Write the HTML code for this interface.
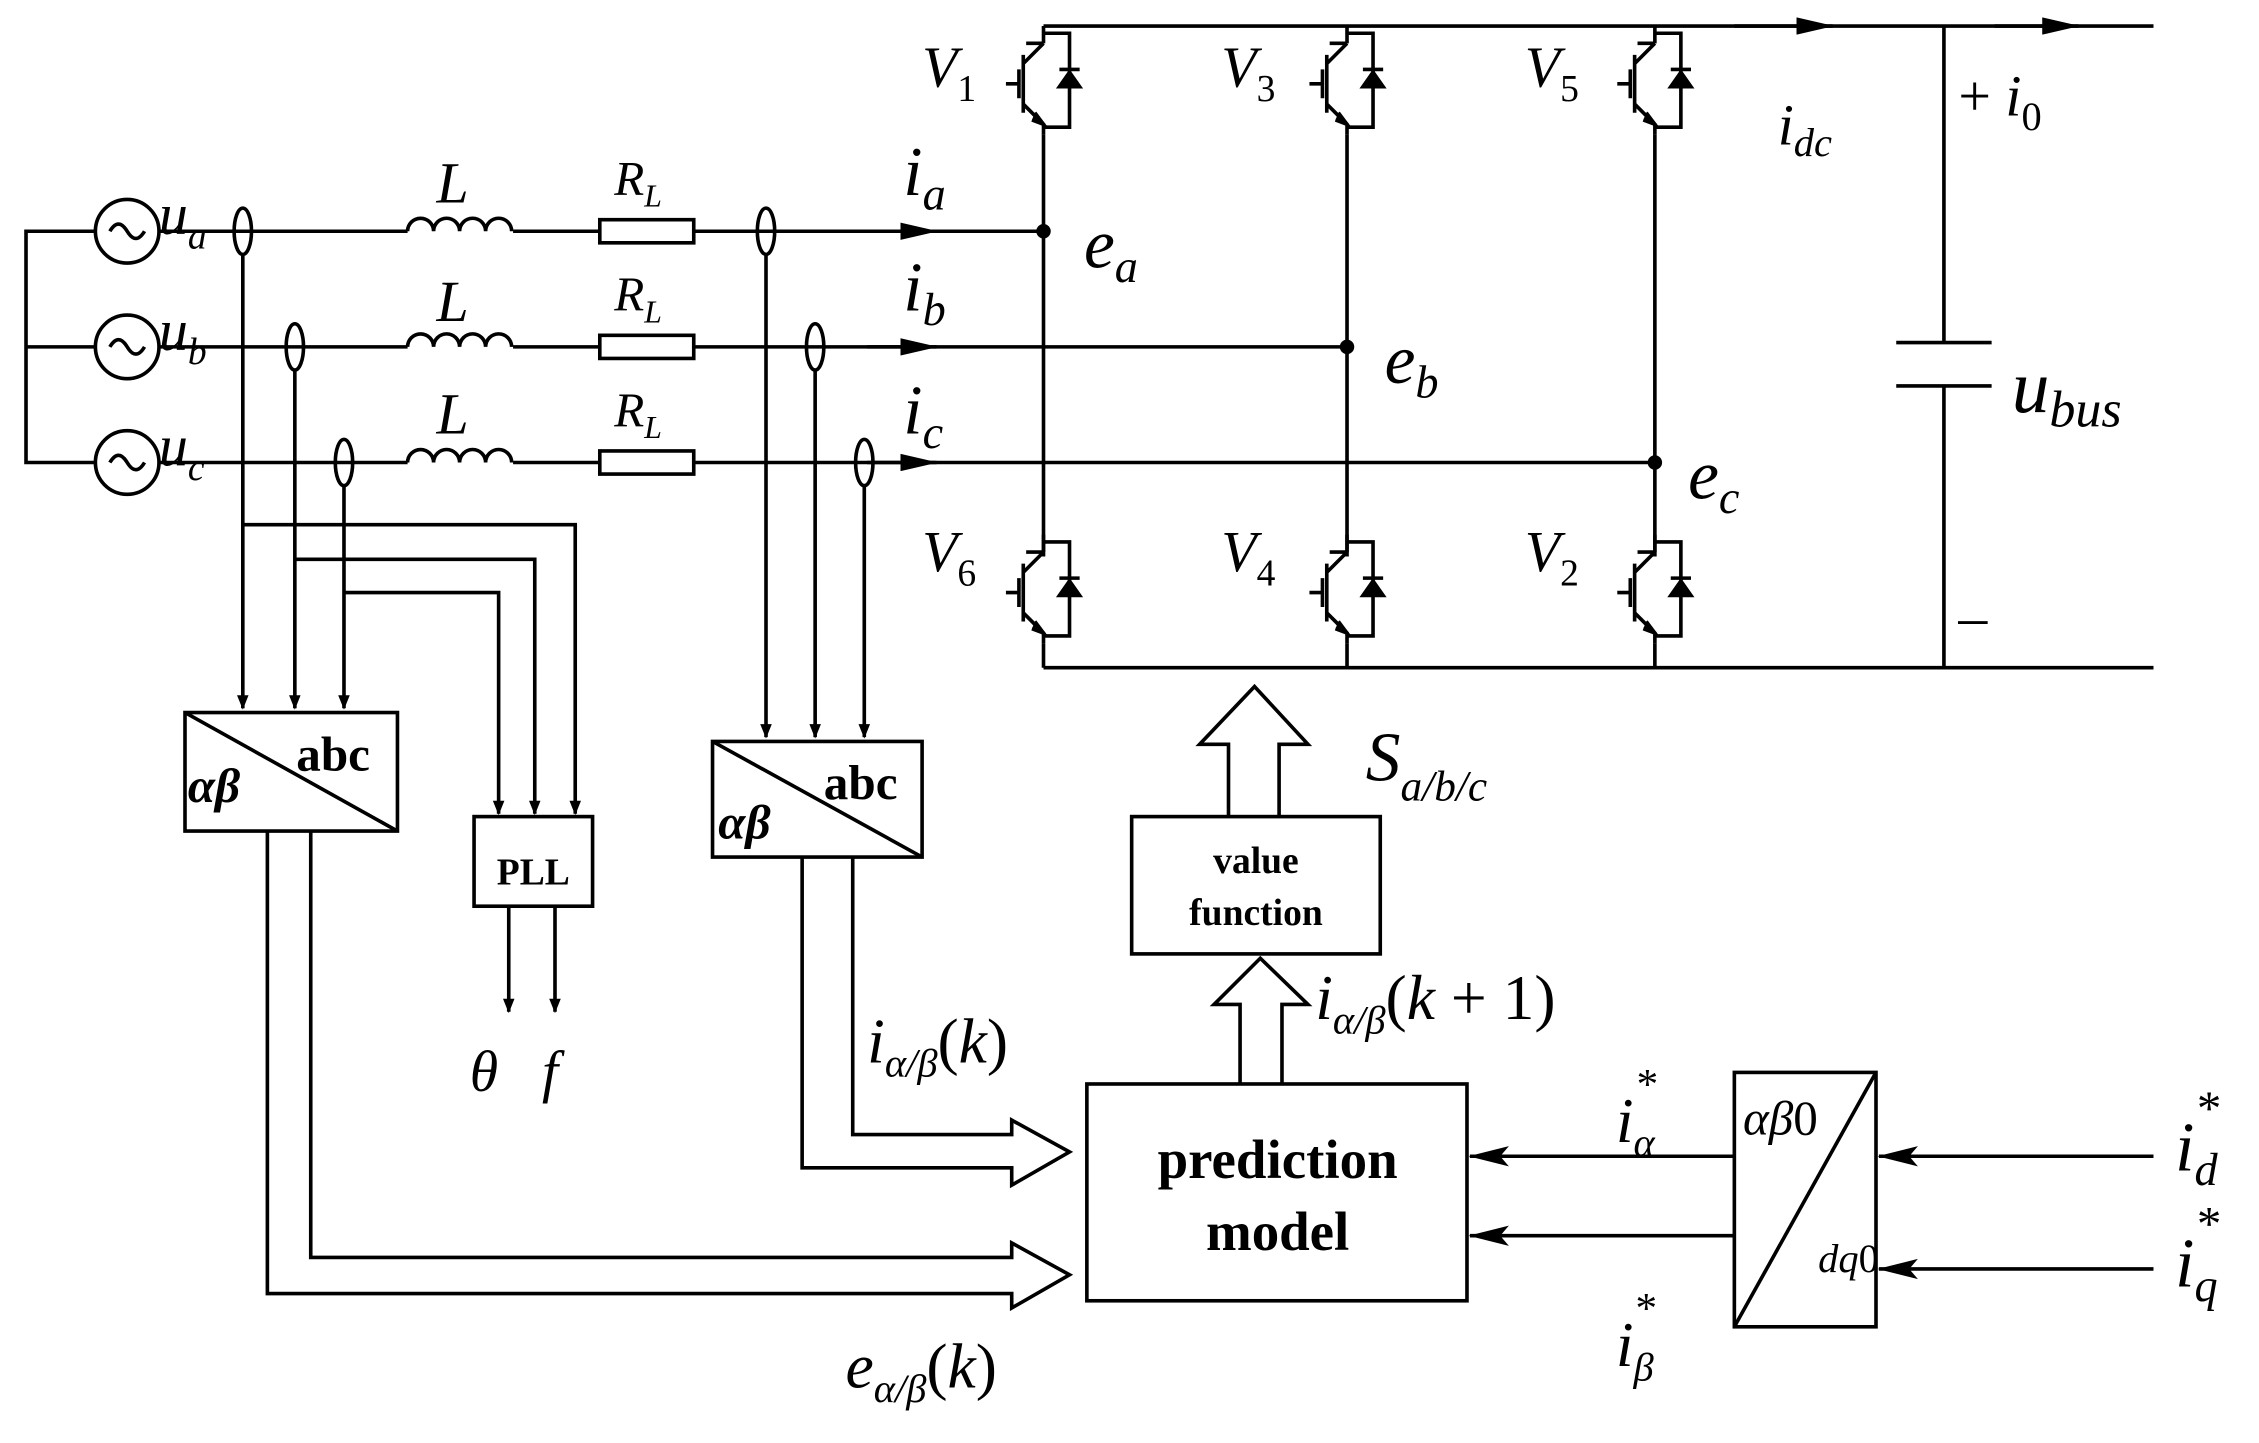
<!DOCTYPE html>
<html><head><meta charset="utf-8"><style>
html,body{margin:0;padding:0;background:#fff}
svg{display:block}
text{font-family:"Liberation Serif",serif;fill:#000}
.i{font-style:italic}
</style></head><body>
<svg width="2259" height="1443" viewBox="0 0 1563 998.4" xmlns="http://www.w3.org/2000/svg">
<defs>
<marker id="a" markerWidth="10" markerHeight="8" refX="9" refY="4" orient="auto" markerUnits="userSpaceOnUse"><path d="M0,0 L10,4 L0,8z" fill="#000"/></marker>
<marker id="c" markerWidth="26" markerHeight="12" refX="25" refY="6" orient="auto" markerUnits="userSpaceOnUse"><path d="M0,0 L26,6 L0,12z" fill="#000"/></marker>
<marker id="b" markerWidth="28" markerHeight="14" refX="27" refY="7" orient="auto" markerUnits="userSpaceOnUse"><path d="M0,0 L28,7 L0,14 L6,7z" fill="#000"/></marker>
<g id="igbt" fill="none" stroke="#000" stroke-width="2.5">
<path d="M0,0 V12 M0,12 H-12 M-14,20 V60 M-17,30 V50 M-26,40 H-17 M-14,26 L0,12 M-14,54 L0,68 V75"/>
<path d="M0,5 H18 V70 H0"/>
<path d="M11,42 L25,42 L18,32z" fill="#000"/>
<path d="M11,30 H25"/>
<path d="M-6,60 L0,68 L-8,65" fill="#000"/>
</g>
</defs>
<g fill="none" stroke="#000" stroke-width="2.5">
<path d="M66,160 H18 V320 H66 M66,240 H18"/>
<circle cx="88" cy="160" r="22"/><circle cx="88" cy="240" r="22"/><circle cx="88" cy="320" r="22"/>
<path d="M76,160 q6,-10 12,0 t12,0 M76,240 q6,-10 12,0 t12,0 M76,320 q6,-10 12,0 t12,0"/>
<path d="M110,160 H282 M355,160 H415 M480,160 H722"/>
<path d="M110,240 H282 M355,240 H415 M480,240 H932"/>
<path d="M110,320 H282 M355,320 H415 M480,320 H1145"/>
<path d="M282,160 a9,9 0 0 1 18,0 a9,9 0 0 1 18,0 a9,9 0 0 1 18,0 a9,9 0 0 1 18,0"/>
<path d="M282,240 a9,9 0 0 1 18,0 a9,9 0 0 1 18,0 a9,9 0 0 1 18,0 a9,9 0 0 1 18,0"/>
<path d="M282,320 a9,9 0 0 1 18,0 a9,9 0 0 1 18,0 a9,9 0 0 1 18,0 a9,9 0 0 1 18,0"/>
<rect x="415" y="152" width="65" height="16"/><rect x="415" y="232" width="65" height="16"/><rect x="415" y="312" width="65" height="16"/>
<ellipse cx="168" cy="160" rx="6" ry="16"/><ellipse cx="204" cy="240" rx="6" ry="16"/><ellipse cx="238" cy="320" rx="6" ry="16"/>
<ellipse cx="530" cy="160" rx="6" ry="16"/><ellipse cx="564" cy="240" rx="6" ry="16"/><ellipse cx="598" cy="320" rx="6" ry="16"/>
<path d="M168,176 V490" marker-end="url(#a)"/><path d="M204,256 V490" marker-end="url(#a)"/><path d="M238,336 V490" marker-end="url(#a)"/>
<path d="M168,363 H398 V563" marker-end="url(#a)"/><path d="M204,387 H370 V563" marker-end="url(#a)"/><path d="M238,410 H345 V563" marker-end="url(#a)"/>
<path d="M530,176 V510" marker-end="url(#a)"/><path d="M564,256 V510" marker-end="url(#a)"/><path d="M598,336 V510" marker-end="url(#a)"/>
<path d="M600,160 H648" marker-end="url(#c)"/><path d="M600,240 H648" marker-end="url(#c)"/><path d="M600,320 H648" marker-end="url(#c)"/>
<rect x="128" y="493" width="147" height="82"/><path d="M128,493 L275,575"/>
<rect x="493" y="513" width="145" height="80"/><path d="M493,513 L638,593"/>
<rect x="328" y="565" width="82" height="62"/>
<path d="M352,627 V700" marker-end="url(#a)"/><path d="M384,627 V700" marker-end="url(#a)"/>
<path d="M185,575 V895 H700 V905 L740,882 L700,860 V870 H215 V575"/>
<path d="M555,593 V808 H700 V820 L740,797 L700,775 V785 H590 V593"/>
<rect x="752" y="750" width="263" height="150"/>
<rect x="783" y="565" width="172" height="95"/>
<path d="M858,750 V695 H840 L872,663 L905,695 H887 V750"/>
<path d="M850,565 V515 H830 L868,475 L905,515 H885 V565"/>
<rect x="1200" y="742" width="98" height="176"/><path d="M1200,918 L1298,742"/>
<path d="M1200,800 H1017" marker-end="url(#b)"/><path d="M1200,855 H1017" marker-end="url(#b)"/>
<path d="M1490,800 H1300" marker-end="url(#b)"/><path d="M1490,878 H1300" marker-end="url(#b)"/>
<path d="M722,18 H1490 M722,462 H1490"/>
<path d="M1200,18 H1268" marker-end="url(#c)"/><path d="M1380,18 H1438" marker-end="url(#c)"/>
<path d="M722,93 V385 M932,93 V385 M1145,93 V385 M722,445 V462 M932,445 V462 M1145,445 V462"/>
<path d="M1345,18 V237 M1345,267 V462 M1312,237 H1378 M1312,267 H1378"/>
</g>
<use href="#igbt" x="722" y="18"/><use href="#igbt" x="932" y="18"/><use href="#igbt" x="1145" y="18"/>
<use href="#igbt" x="722" y="370"/><use href="#igbt" x="932" y="370"/><use href="#igbt" x="1145" y="370"/>
<g fill="#000"><circle cx="722" cy="160" r="5"/><circle cx="932" cy="240" r="5"/><circle cx="1145" cy="320" r="5"/></g>
<g font-size="40">
<text x="110" y="162" class="i">u<tspan font-size="26" dy="10">a</tspan></text>
<text x="110" y="242" class="i">u<tspan font-size="26" dy="10">b</tspan></text>
<text x="110" y="322" class="i">u<tspan font-size="26" dy="10">c</tspan></text>
<text x="302" y="140" class="i">L</text><text x="302" y="222" class="i">L</text><text x="302" y="300" class="i">L</text>
<text x="425" y="135" class="i" font-size="34">R<tspan font-size="22" dy="8">L</tspan></text>
<text x="425" y="215" class="i" font-size="34">R<tspan font-size="22" dy="8">L</tspan></text>
<text x="425" y="295" class="i" font-size="34">R<tspan font-size="22" dy="8">L</tspan></text>
<text x="625" y="135" class="i" font-size="48">i<tspan font-size="32" dy="10">a</tspan></text>
<text x="625" y="215" class="i" font-size="48">i<tspan font-size="32" dy="10">b</tspan></text>
<text x="625" y="300" class="i" font-size="48">i<tspan font-size="32" dy="10">c</tspan></text>
<text x="750" y="185" class="i" font-size="48">e<tspan font-size="32" dy="10">a</tspan></text>
<text x="958" y="265" class="i" font-size="48">e<tspan font-size="32" dy="10">b</tspan></text>
<text x="1168" y="345" class="i" font-size="48">e<tspan font-size="32" dy="10">c</tspan></text>
<text x="638" y="60" class="i">V<tspan font-size="26" dy="10" font-style="normal">1</tspan></text>
<text x="845" y="60" class="i">V<tspan font-size="26" dy="10" font-style="normal">3</tspan></text>
<text x="1055" y="60" class="i">V<tspan font-size="26" dy="10" font-style="normal">5</tspan></text>
<text x="638" y="395" class="i">V<tspan font-size="26" dy="10" font-style="normal">6</tspan></text>
<text x="845" y="395" class="i">V<tspan font-size="26" dy="10" font-style="normal">4</tspan></text>
<text x="1055" y="395" class="i">V<tspan font-size="26" dy="10" font-style="normal">2</tspan></text>
<text x="1230" y="100" class="i">i<tspan font-size="28" dy="8">dc</tspan></text>
<text x="1355" y="80">+ <tspan font-style="italic">i</tspan><tspan font-size="28" dy="10">0</tspan></text>
<text x="1355" y="440">–</text>
<text x="1392" y="285" class="i" font-size="52">u<tspan font-size="36" dy="10">bus</tspan></text>
<text x="130" y="555" font-weight="bold" font-style="italic" font-size="34">αβ</text>
<text x="205" y="533" font-weight="bold" font-size="34">abc</text>
<text x="497" y="580" font-weight="bold" font-style="italic" font-size="34">αβ</text>
<text x="570" y="553" font-weight="bold" font-size="34">abc</text>
<text x="369" y="612" font-weight="bold" font-size="26" text-anchor="middle">PLL</text>
<text x="325" y="755" class="i">θ</text><text x="375" y="755" class="i">f</text>
<text x="869" y="604" font-weight="bold" font-size="26" text-anchor="middle">value</text>
<text x="869" y="640" font-weight="bold" font-size="26" text-anchor="middle">function</text>
<text x="884" y="815" font-weight="bold" font-size="38" text-anchor="middle">prediction</text>
<text x="884" y="865" font-weight="bold" font-size="38" text-anchor="middle">model</text>
<text x="945" y="540" class="i" font-size="48">S<tspan font-size="30" dy="14">a/b/c</tspan></text>
<text x="600" y="735" class="i" font-size="44">i<tspan font-size="28" dy="10">α/β</tspan><tspan dy="-10" font-style="normal">(</tspan>k<tspan font-style="normal">)</tspan></text>
<text x="910" y="705" class="i" font-size="44">i<tspan font-size="28" dy="10">α/β</tspan><tspan dy="-10" font-style="normal">(</tspan>k<tspan font-style="normal"> + 1)</tspan></text>
<text x="585" y="960" class="i" font-size="44">e<tspan font-size="28" dy="10">α/β</tspan><tspan dy="-10" font-style="normal">(</tspan>k<tspan font-style="normal">)</tspan></text>
<text x="1118" y="790" class="i" font-size="44">i<tspan font-size="28" dy="10">α</tspan><tspan font-size="30" dx="-14" dy="-40">*</tspan></text>
<text x="1118" y="945" class="i" font-size="44">i<tspan font-size="28" dy="10">β</tspan><tspan font-size="30" dx="-14" dy="-40">*</tspan></text>
<text x="1206" y="785" class="i" font-size="34">αβ<tspan font-style="normal">0</tspan></text>
<text x="1258" y="880" class="i" font-size="28">dq<tspan font-style="normal">0</tspan></text>
<text x="1505" y="810" class="i" font-size="48">i<tspan font-size="32" dy="10">d</tspan><tspan font-size="34" dx="-16" dy="-42">*</tspan></text>
<text x="1505" y="890" class="i" font-size="48">i<tspan font-size="32" dy="10">q</tspan><tspan font-size="34" dx="-16" dy="-42">*</tspan></text>
</g>
</svg>
</body></html>
